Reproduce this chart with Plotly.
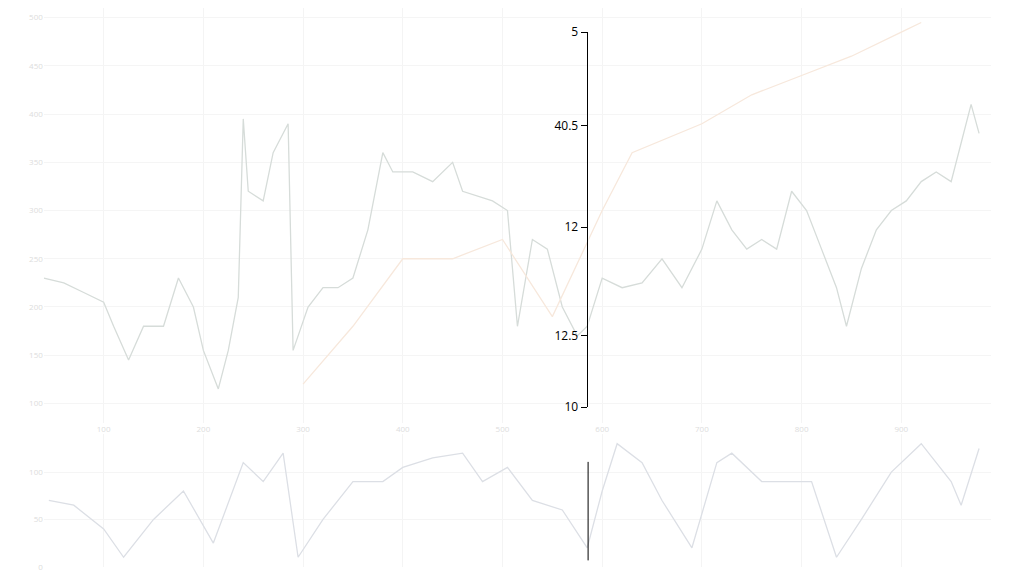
import plotly.graph_objects as go

# price line (pixel-read, arbitrary units)
price_x = [40, 60, 80, 100, 110, 125, 140, 160, 175, 190, 200, 215, 225, 235, 240, 245, 260, 270, 285, 290,
           305, 320, 335, 350, 365, 380, 390, 410, 430, 450, 460, 475, 490, 505, 515, 530, 545, 560, 575, 585,
           600, 620, 640, 660, 680, 700, 715, 730, 745, 760, 775, 790, 805, 820, 835, 845, 860, 875, 890, 905,
           920, 935, 950, 960, 970, 978]
price_y = [230, 225, 215, 205, 180, 145, 180, 180, 230, 200, 155, 115, 155, 210, 395, 320, 310, 360, 390, 155,
           200, 220, 220, 230, 280, 360, 340, 340, 330, 350, 320, 315, 310, 300, 180, 270, 260, 200, 170, 180,
           230, 220, 225, 250, 220, 260, 310, 280, 260, 270, 260, 320, 300, 260, 220, 180, 240, 280, 300, 310,
           330, 340, 330, 370, 410, 380]
ma_x = [300, 350, 400, 450, 500, 550, 600, 630, 700, 750, 800, 850, 900, 920]
ma_y = [120, 180, 250, 250, 270, 190, 300, 360, 390, 420, 440, 460, 485, 495]
osc_x = [45, 70, 100, 120, 150, 180, 210, 240, 260, 280, 295, 320, 350, 380, 400, 430, 460, 480, 505, 530,
         560, 585, 600, 615, 640, 660, 690, 715, 730, 760, 790, 810, 835, 860, 890, 920, 950, 960, 978]
osc_y = [70, 65, 40, 10, 50, 80, 25, 110, 90, 120, 10, 50, 90, 90, 105, 115, 120, 90, 105, 70,
         60, 20, 80, 130, 110, 70, 20, 110, 120, 90, 90, 90, 10, 50, 100, 130, 90, 65, 125]
tick_pos = [1.0, 0.75, 0.48, 0.19, 0.0]
tick_text = ["5", "40.5", "12", "12.5", "10"]

fig = go.Figure()
fig.add_trace(go.Scatter(x=price_x, y=price_y, mode="lines", line=dict(color="#d6dcd9", width=1.3)))
fig.add_trace(go.Scatter(x=ma_x, y=ma_y, mode="lines", line=dict(color="#f7e8dc", width=1.3)))
fig.add_trace(go.Scatter(x=osc_x, y=osc_y, mode="lines", line=dict(color="#dcdfe5", width=1.3),
                         xaxis="x", yaxis="y2"))
fig.add_trace(go.Scatter(x=[0, 0], y=[0, 1], mode="markers", marker=dict(opacity=0),
                         xaxis="x2", yaxis="y3", hoverinfo="skip"))

fig.update_layout(
    width=1024, height=576, showlegend=False, plot_bgcolor="white", paper_bgcolor="white",
    margin=dict(l=0, r=0, t=0, b=0, autoexpand=False),
    xaxis=dict(domain=[0.035, 0.96], range=[40, 990], showgrid=True, gridcolor="#f4f4f4",
               showticklabels=True, tickfont=dict(color="#dddddd", size=8), zeroline=False),
    yaxis=dict(domain=[0.28, 1.0], range=[80, 510], showgrid=True, gridcolor="#f5f5f5",
               tickfont=dict(color="#dddddd", size=8), zeroline=False),
    yaxis2=dict(domain=[0.03, 0.26], range=[0, 140], showgrid=True, gridcolor="#f5f5f5",
                tickfont=dict(color="#dddddd", size=8), zeroline=False),
    xaxis2=dict(domain=[0.566, 0.567], visible=False, range=[0, 1]),
    yaxis3=dict(anchor="x2", domain=[0.307, 0.958], range=[0, 1], side="left",
                showline=True, linecolor="black", ticks="outside", ticklen=6, tickcolor="black",
                tickvals=tick_pos, ticktext=tick_text, tickfont=dict(color="black", size=12),
                showgrid=False, zeroline=False),
    shapes=[dict(type="line", xref="paper", yref="paper", x0=0.5665, x1=0.5665, y0=0.041, y1=0.212,
                 line=dict(color="black", width=1))],
)
fig.write_html("out.html")
